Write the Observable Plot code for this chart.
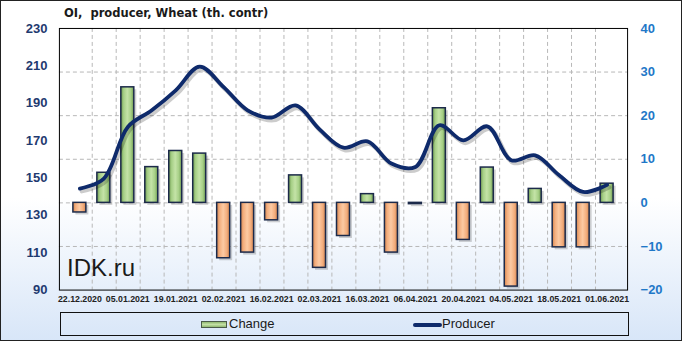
<!DOCTYPE html>
<html><head><meta charset="utf-8">
<script src="https://cdn.jsdelivr.net/npm/d3@7"></script>
<script src="https://cdn.jsdelivr.net/npm/@observablehq/plot@0.6"></script>
<style>
html,body{margin:0;padding:0;background:#fff;}
#wrap{position:relative;width:682px;height:341px;box-sizing:border-box;border:1px solid #222;
  background:linear-gradient(to bottom,#ffffff 0%,#ffffff 58%,#d8e6f8 100%);overflow:hidden;}
#chart{position:absolute;left:-1px;top:-1px;}
#title{position:absolute;left:63px;top:6.4px;font:bold 11.5px/13px "DejaVu Sans",sans-serif;color:#1a1a1a;white-space:pre;}
#wm{position:absolute;left:66px;top:254.7px;font:24px/24px "Liberation Sans",Arial,sans-serif;color:#1a1a1a;}
#legend{position:absolute;left:59px;top:311px;width:569px;height:24px;box-sizing:border-box;border:1px solid #111;}
.lg{position:absolute;font:13px/16px "Liberation Sans",Arial,sans-serif;color:#1a1a1a;top:3px;}
.sw1{position:absolute;left:140px;top:8px;width:26px;height:7px;box-sizing:border-box;border:1px solid #4a5a4a;
  background:linear-gradient(to bottom,#8fb870,#c3e0a6 50%,#8fb870);}
.sw2{position:absolute;left:352px;top:10px;width:29px;height:4px;border-radius:2px;background:#0e2a6b;}
</style></head>
<body>
<div id="wrap">
  <div id="chart"></div>
  <div id="title">OI,  producer, Wheat (th. contr)</div>
  <div id="wm">IDK.ru</div>
  <div id="legend">
    <div class="sw1"></div><div class="lg" style="left:168px">Change</div>
    <div class="sw2"></div><div class="lg" style="left:381px">Producer</div>
  </div>
</div>
<svg width="1" height="1" style="position:absolute;left:0;top:0">
  <defs>
    <linearGradient id="gGreen" x1="0" x2="1" y1="0" y2="0">
      <stop offset="0" stop-color="#6e9850"/>
      <stop offset="0.22" stop-color="#a6cf86"/>
      <stop offset="0.5" stop-color="#c4e3a7"/>
      <stop offset="0.78" stop-color="#a6cf86"/>
      <stop offset="1" stop-color="#6e9850"/>
    </linearGradient>
    <linearGradient id="gOrange" x1="0" x2="1" y1="0" y2="0">
      <stop offset="0" stop-color="#d2854f"/>
      <stop offset="0.22" stop-color="#f3ae7e"/>
      <stop offset="0.5" stop-color="#fccaa3"/>
      <stop offset="0.78" stop-color="#f3ae7e"/>
      <stop offset="1" stop-color="#d2854f"/>
    </linearGradient>
  </defs>
</svg>
<script>
const dates = ["22.12.2020","29.12.2020","05.01.2021","12.01.2021","19.01.2021","26.01.2021",
  "02.02.2021","09.02.2021","16.02.2021","23.02.2021","02.03.2021","09.03.2021","16.03.2021",
  "23.03.2021","06.04.2021","13.04.2021","20.04.2021","27.04.2021","04.05.2021","11.05.2021",
  "18.05.2021","25.05.2021","01.06.2021"];
const change = [-2.2, 6.9, 26.5, 8.2, 11.9, 11.3, -12.7, -11.4, -4.0, 6.3, -14.9, -7.6, 2.0,
  -11.4, -0.3, 21.7, -8.5, 8.1, -19.2, 3.2, -10.2, -10.2, 4.4];
const producer = [144.3, 149.7, 177.3, 186.2, 196.9, 209.6, 198.6, 186.2, 182.3, 188.8, 176.0,
  166.2, 169.6, 157.7, 155.9, 178.2, 170.1, 177.6, 159.5, 162.1, 151.4, 142.5, 146.3];
const leftTicks = [90, 110, 130, 150, 170, 190, 210, 230];
const rightTicks = [-20, -10, 0, 10, 20, 30, 40];
const gridTicks = [-10, 0, 10, 20, 30];

// left axis (producer) mapped onto right axis (change) domain
const L0 = 90, L1 = 230, R0 = -20, R1 = 40;
const toR = p => (p - L0) * (R1 - R0) / (L1 - L0) + R0;
const toL = r => (r - R0) * (L1 - L0) / (R1 - R0) + L0;

const data = dates.map((d, i) => ({date: d, change: change[i], producer: toR(producer[i])}));

const W = 682, H = 341, mL = 59, mR = 54, mT = 28, mB = 51;
const halfStep = (W - mL - mR) / dates.length / 2;

const chart = Plot.plot({
  width: W, height: H,
  marginLeft: mL, marginRight: mR, marginTop: mT, marginBottom: mB,
  style: {background: "transparent", overflow: "visible"},
  x: {type: "band", domain: dates, paddingInner: 0.47, paddingOuter: 0.235},
  y: {domain: [R0, R1]},
  marks: [
    Plot.ruleY(gridTicks, {stroke: "#b8b8b8", strokeDasharray: "4,3"}),
    Plot.ruleX(dates.slice(0, -1), {dx: halfStep, stroke: "#b8b8b8", strokeDasharray: "4,3"}),
    // shadows
    Plot.barY(data, {x: "date", y: "change", dx: 2.5, dy: 2.5, fill: "#000", fillOpacity: 0.18}),
    Plot.barY(data, {filter: d => d.change >= 0, x: "date", y: "change", fill: "url(#gGreen)",
      stroke: "#1c2a4a", strokeWidth: 1.5}),
    Plot.barY(data, {filter: d => d.change < 0, x: "date", y: "change", fill: "url(#gOrange)",
      stroke: "#1c2a4a", strokeWidth: 1.5}),
    Plot.lineY(data, {x: "date", y: "producer", curve: "catmull-rom", dx: 2, dy: 2.5,
      stroke: "#000", strokeOpacity: 0.2, strokeWidth: 4.5}),
    Plot.lineY(data, {x: "date", y: "producer", curve: "catmull-rom", stroke: "#0e2a6b",
      strokeWidth: 3.8}),
    Plot.frame({stroke: "#000", strokeWidth: 1}),
    Plot.axisY(rightTicks, {anchor: "right", tickSize: 0, tickPadding: 13, fontSize: 13,
      fontWeight: "bold", fontFamily: "Liberation Sans", color: "#1f78c8", label: null}),
    Plot.axisY(leftTicks.map(toR), {anchor: "left", tickSize: 0, tickPadding: 12, fontSize: 13,
      fontWeight: "bold", fontFamily: "Liberation Sans", color: "#1f3a70", label: null,
      tickFormat: v => String(Math.round(toL(v)))}),
    Plot.axisX(dates.filter((d, i) => i % 2 === 0), {anchor: "bottom", tickSize: 0, tickPadding: 6,
      fontSize: 8.8, fontWeight: "bold", fontFamily: "Liberation Sans", color: "#222", label: null})
  ]
});
document.getElementById("chart").appendChild(chart);
</script>
</body></html>
